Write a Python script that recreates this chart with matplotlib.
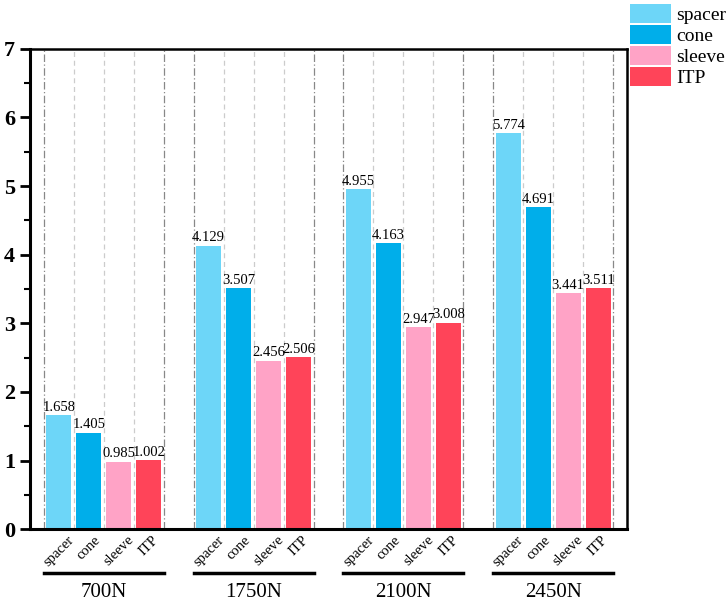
import numpy as np
import matplotlib.pyplot as plt
import matplotlib.transforms as mtransforms

plt.rcParams['font.family'] = ['Liberation Serif', 'DejaVu Serif']

groups = ['700N', '1750N', '2100N', '2450N']
parts = ['spacer', 'cone', 'sleeve', 'ITP']
spacer = [1.658, 4.129, 4.955, 5.774]
cone = [1.405, 3.507, 4.163, 4.691]
sleeve = [0.985, 2.456, 2.947, 3.441]
itp = [1.002, 2.506, 3.008, 3.511]
colors = ['#6dd6f8', '#00aeea', '#ffa3c6', '#ff4459']

series = [spacer, cone, sleeve, itp]

fig = plt.figure(figsize=(7.26, 6.02), dpi=100)
ax = fig.add_axes([0.041, 0.121, 0.823, 0.798])

# grid lines between bars and at group edges
for g in range(len(groups)):
    base = g * 5
    for k in (base - 0.5, base + 3.5):
        ax.axvline(k, color='#888888', lw=0.9, ls=(0, (6, 2, 1, 2)), zorder=0)
    for k in (base + 0.5, base + 1.5, base + 2.5):
        ax.axvline(k, color='#cccccc', lw=0.9, ls=(0, (4, 3)), zorder=0)

xticks = []
xlabels = []
for i, (name, vals, c) in enumerate(zip(parts, series, colors)):
    x = np.arange(len(groups)) * 5 + i
    ax.bar(x, vals, width=0.83, color=c, label=name, zorder=2)
    for xi, v in zip(x, vals):
        ax.text(xi, v + 0.02, f'{v:.3f}', ha='center', va='bottom', fontsize=10.5, zorder=3)
    xticks += list(x)
    xlabels += [name] * len(groups)

ax.set_xticks(xticks)
ax.set_xticklabels(xlabels, rotation=45, ha='center', va='top', fontsize=10.5)
ax.tick_params(axis='x', length=0, pad=3)

ax.set_xlim(-0.97, 18.97)
ax.set_ylim(0, 7)
ax.set_yticks(range(8))
ax.set_yticks(np.arange(0.5, 7, 1), minor=True)
ax.tick_params(axis='y', which='major', length=7, width=2, direction='out', labelsize=16)
ax.tick_params(axis='y', which='minor', length=4, width=1.5, direction='out')
for lab in ax.get_yticklabels():
    lab.set_fontweight('bold')

for s in ['left', 'bottom']:
    ax.spines[s].set_linewidth(2.2)
for s in ['top', 'right']:
    ax.spines[s].set_linewidth(1.8)

# group labels under the part labels
trans = mtransforms.blended_transform_factory(ax.transData, ax.transAxes)
for g, name in enumerate(groups):
    base = g * 5
    ax.plot([base - 0.5, base + 3.5], [-0.092, -0.092], color='black', lw=2.5,
            transform=trans, clip_on=False)
    ax.text(base + 1.5, -0.132, name, ha='center', va='center', fontsize=15, transform=trans)

ax.legend(loc='upper left', bbox_to_anchor=(1.005, 1.093), frameon=False, fontsize=14,
          handlelength=2.1, handleheight=1.1, handletextpad=0.25, labelspacing=0.05,
          borderaxespad=0.0, borderpad=0.0)

fig.savefig('out.png', dpi=100)
